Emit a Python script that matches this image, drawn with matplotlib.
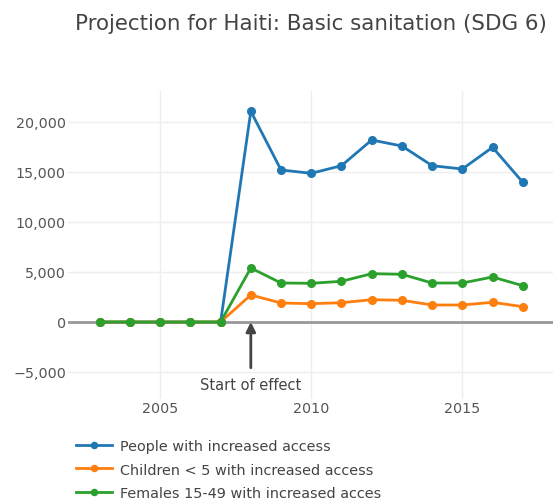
import matplotlib
matplotlib.use("Agg")
import matplotlib.pyplot as plt
from matplotlib.patches import Rectangle
from matplotlib.ticker import FuncFormatter

# data
years = list(range(2003, 2018))
people = [0, 0, 0, 0, 0, 21070, 15200, 14870, 15630, 18200, 17600, 15630, 15300, 17470, 13970]
children = [0, 0, 0, 0, 0, 2700, 1900, 1830, 1930, 2230, 2170, 1700, 1700, 1970, 1530]
females = [0, 0, 0, 0, 0, 5400, 3900, 3870, 4070, 4830, 4770, 3900, 3900, 4500, 3630]
labels = ["People with increased access",
          "Children < 5 with increased access",
          "Females 15-49 with increased access"]
colors = ["#1f77b4", "#ff7f0e", "#2ca02c"]
y_ticks = [-5000, 0, 5000, 10000, 15000, 20000]
x_ticks = [2005, 2010, 2015]
effect_year = 2008

W, H = 553, 502
fig = plt.figure(figsize=(W / 100, H / 100), dpi=100)
# plot area in pixels: left 68, top 92, bottom 400, runs off the right edge
ax = fig.add_axes([68 / W, 1 - 400 / H, (W - 68) / W, (400 - 92) / H])

for vals, lab, c in zip([people, children, females], labels, colors):
    ax.plot(years, vals, color=c, lw=2, marker="o", ms=5.5, label=lab, zorder=3)

ax.axhline(0, color="#999999", lw=2, zorder=2)
ax.set_xlim(2001.95, 2018.0)
ax.set_ylim(-7700, 23100)
ax.set_xticks(x_ticks)
ax.set_yticks(y_ticks)
ax.yaxis.set_major_formatter(FuncFormatter(lambda v, p: "\u2212" + f"{-int(v):,}" if v < 0 else f"{int(v):,}"))
ax.grid(True, color="#eeeeee", lw=1)
ax.set_axisbelow(True)
for s in ax.spines.values():
    s.set_visible(False)
ax.tick_params(length=0, labelsize=10.3, labelcolor="#555555", pad=1.5)

ax.annotate("Start of effect", xy=(effect_year, 0), xytext=(effect_year, -6300),
            ha="center", va="center", fontsize=10.5, color="#444444",
            arrowprops=dict(arrowstyle="-|>", color="#444444", lw=2,
                            mutation_scale=14, shrinkA=5, shrinkB=0))

fig.text(75 / W, 1 - 24 / H, "Projection for Haiti: Basic sanitation (SDG 6)",
         fontsize=15.4, color="#444444", va="center", ha="left")

leg = fig.legend(loc="upper left", bbox_to_anchor=(63 / W, 1 - 427 / H),
                 frameon=False, fontsize=10.4, labelcolor="#444444",
                 handlelength=2.5, handletextpad=0.55, labelspacing=0.66,
                 markerscale=0.8)
# the legend runs past the visible area in the reference, hide the cut part
fig.patches.append(Rectangle((382 / W, 0), 1, 70 / H, transform=fig.transFigure,
                             facecolor="white", edgecolor="none", zorder=10))

fig.savefig("out.png", dpi=100)
